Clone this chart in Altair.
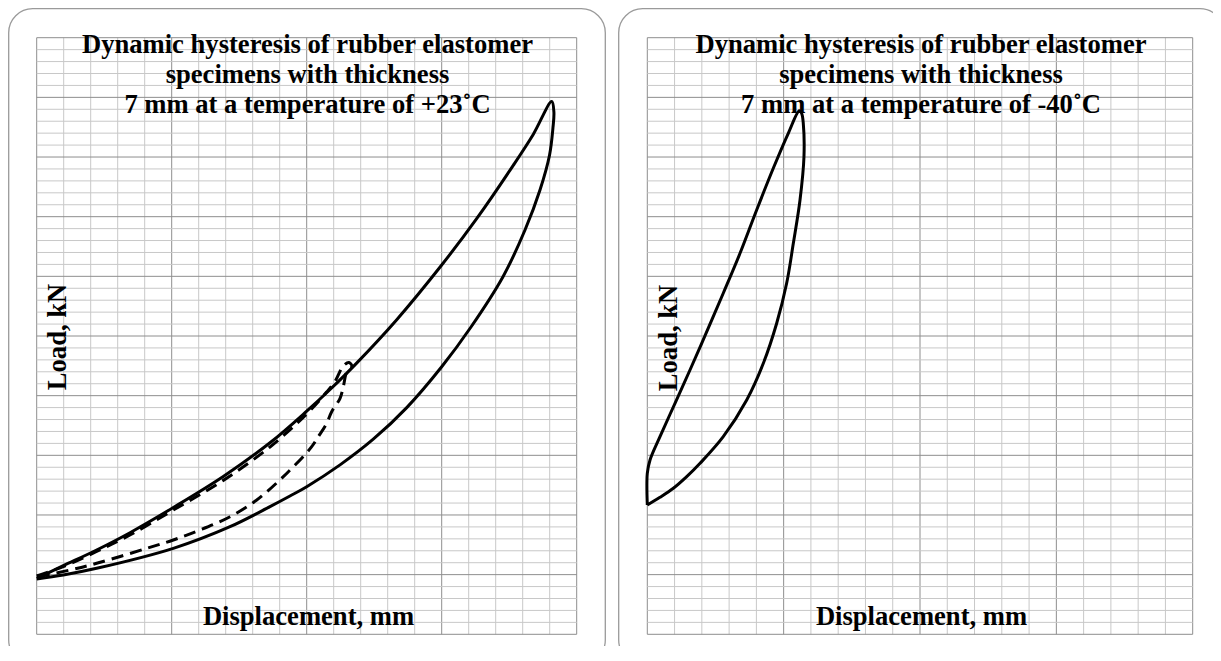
import altair as alt
import pandas as pd

# ---------------- data (grid units: x = major divisions 0..4, y = major divisions 0..10) -------------
# +23 C, solid loop (upper branch then lower branch)
P23_SOLID_X = [0.000, 0.197, 0.444, 0.691, 1.012, 1.382, 1.728, 2.000, 2.173, 2.370, 2.667, 3.000,
               3.259, 3.530, 3.679, 3.815,
               3.831, 3.824, 3.799, 3.728, 3.617, 3.454, 3.217, 3.000, 2.741, 2.493,
               2.247, 2.000, 1.876, 1.728, 1.432, 1.012, 0.444, 0.197, 0.000]
P23_SOLID_Y = [0.939, 1.150, 1.413, 1.703, 2.125, 2.645, 3.210, 3.740, 4.103, 4.546, 5.274, 6.190,
               6.967, 7.861, 8.383, 8.930,
               8.755, 8.487, 8.035, 7.448, 6.777, 5.994, 5.151, 4.485, 3.800, 3.270,
               2.840, 2.474, 2.318, 2.140, 1.804, 1.441, 1.106, 0.994, 0.927]

# +23 C, dashed (smaller amplitude) loop
P23_DASH_X = [0.000, 0.197, 0.444, 0.691, 1.012, 1.382, 1.728, 2.000, 2.147, 2.210, 2.271, 2.313,
              2.336, 2.299, 2.271, 2.247, 2.185, 2.148, 2.086, 2.037, 1.963, 1.889, 1.827, 1.630,
              1.432, 1.210, 1.012, 0.815, 0.444, 0.247, 0.000]
P23_DASH_Y = [0.977, 1.136, 1.388, 1.664, 2.083, 2.580, 3.140, 3.693, 4.060, 4.240, 4.500, 4.556,
              4.489, 4.413, 4.150, 3.956, 3.731, 3.537, 3.312, 3.145, 2.950, 2.782, 2.642, 2.251,
              1.971, 1.748, 1.581, 1.441, 1.190, 1.078, 0.960]

# -40 C loop
M40_X = [0.000, 0.000, 0.020, 0.093, 0.203, 0.313, 0.436, 0.557, 0.680, 0.802, 0.924, 1.034, 1.115,
         1.132, 1.144, 1.149, 1.120, 1.071, 1.022, 0.949, 0.851, 0.729, 0.557, 0.387, 0.289, 0.191,
         0.093, 0.000]
M40_Y = [2.167, 2.699, 2.922, 3.312, 3.872, 4.430, 5.072, 5.716, 6.386, 7.112, 7.811, 8.398, 8.776,
         8.733, 8.565, 8.005, 7.280, 6.554, 5.883, 5.213, 4.542, 3.927, 3.312, 2.866, 2.642, 2.447,
         2.296, 2.167]

TITLE_P23 = ["Dynamic hysteresis of rubber elastomer", "specimens with thickness",
             "7 mm at a temperature of +23\u02daC"]
TITLE_M40 = ["Dynamic hysteresis of rubber elastomer", "specimens with thickness",
             "7 mm at a temperature of -40\u02daC"]
X_LABEL = "Displacement, mm"
Y_LABEL = "Load, kN"

X_MAJOR, Y_MAJOR, MINOR_STEP = 4, 10, 0.2

# ---------------- styling ----------------
FONT = "Liberation Serif, Times New Roman, serif"
MINOR_C = "#c8c8c8"
MAJOR_C = "#8e8e8e"
BOX_C = "#9a9a9a"
VIEW_H = 638


def loop_df(xs, ys):
    return pd.DataFrame({"x": xs, "y": ys, "i": list(range(len(xs)))})


def panel(view_w, view_h, gx0, gx1, gy0, gy1, loops, title, title_x, xlab_x, ylab_x, ylab_y, box_w):
    kx = (gx1 - gx0) / X_MAJOR
    ky = (gy0 - gy1) / Y_MAJOR
    xs = alt.Scale(domain=[-gx0 / kx, (view_w - gx0) / kx], nice=False, zero=False)
    ys = alt.Scale(domain=[-(view_h - gy0) / ky, Y_MAJOR + gy1 / ky], nice=False, zero=False)

    n_x = int(round(X_MAJOR / MINOR_STEP))
    n_y = int(round(Y_MAJOR / MINOR_STEP))
    vx = [round(i * MINOR_STEP, 4) for i in range(n_x + 1)]
    vy = [round(i * MINOR_STEP, 4) for i in range(n_y + 1)]
    vdf = pd.DataFrame({"x": vx, "y0": 0, "y1": Y_MAJOR,
                        "kind": ["major" if i % 5 == 0 else "minor" for i in range(n_x + 1)]})
    hdf = pd.DataFrame({"y": vy, "x0": 0, "x1": X_MAJOR,
                        "kind": ["major" if i % 5 == 0 else "minor" for i in range(n_y + 1)]})
    vdf = vdf.sort_values("kind", ascending=False)
    hdf = hdf.sort_values("kind", ascending=False)
    cscale = alt.Scale(domain=["minor", "major"], range=[MINOR_C, MAJOR_C])

    one = pd.DataFrame({"a": [0]})
    box = alt.Chart(one).mark_rect(cornerRadius=24, fill="white", stroke=BOX_C, strokeWidth=1.3,
                                   clip=True).encode(
        x=alt.value(0.7), x2=alt.value(box_w), y=alt.value(0.7), y2=alt.value(656))

    vgrid = alt.Chart(vdf).mark_rule(strokeWidth=1).encode(
        x=alt.X("x:Q", scale=xs, axis=None),
        y=alt.Y("y0:Q", scale=ys, axis=None), y2="y1:Q",
        color=alt.Color("kind:N", scale=cscale, legend=None))
    hgrid = alt.Chart(hdf).mark_rule(strokeWidth=1).encode(
        y=alt.Y("y:Q", scale=ys, axis=None),
        x=alt.X("x0:Q", scale=xs, axis=None), x2="x1:Q",
        color=alt.Color("kind:N", scale=cscale, legend=None))

    layers = [box, vgrid, hgrid]
    for df, dashed in loops:
        kw = dict(strokeWidth=3, color="black", interpolate="catmull-rom", strokeJoin="round")
        if dashed:
            kw["strokeDash"] = [12, 7]
        layers.append(alt.Chart(df).mark_line(**kw).encode(
            x=alt.X("x:Q", scale=xs, axis=None),
            y=alt.Y("y:Q", scale=ys, axis=None),
            order="i:Q"))

    tstyle = dict(font=FONT, fontSize=26.6, fontWeight="bold", color="black")
    layers.append(alt.Chart(one).mark_text(align="center", baseline="alphabetic", lineHeight=30,
                                           **tstyle).encode(
        x=alt.value(title_x), y=alt.value(45.3), text=alt.value(title)))
    layers.append(alt.Chart(one).mark_text(align="center", baseline="alphabetic", **tstyle).encode(
        x=alt.value(xlab_x), y=alt.value(617), text=alt.value(X_LABEL)))
    layers.append(alt.Chart(one).mark_text(align="center", baseline="alphabetic", angle=270,
                                           **tstyle).encode(
        x=alt.value(ylab_x), y=alt.value(ylab_y), text=alt.value(Y_LABEL)))

    return alt.layer(*layers).properties(width=view_w, height=view_h)


left = panel(598, VIEW_H, 28.7, 568.7, 626.3, 29.7,
             [(loop_df(P23_SOLID_X, P23_SOLID_Y), False), (loop_df(P23_DASH_X, P23_DASH_Y), True)],
             TITLE_P23, 299.5, 300.5, 58, 329, 597.3)
right = panel(595, VIEW_H, 29.3, 574.7, 626.3, 29.7,
              [(loop_df(M40_X, M40_Y), False)],
              TITLE_M40, 303, 303.5, 58.7, 330, 606)

chart = alt.hconcat(left, right, spacing=12).properties(
    padding=0, background="white"
).configure_view(strokeWidth=0, stroke="transparent")

chart.save("out.html", embed_options={"renderer": "svg", "actions": False})
